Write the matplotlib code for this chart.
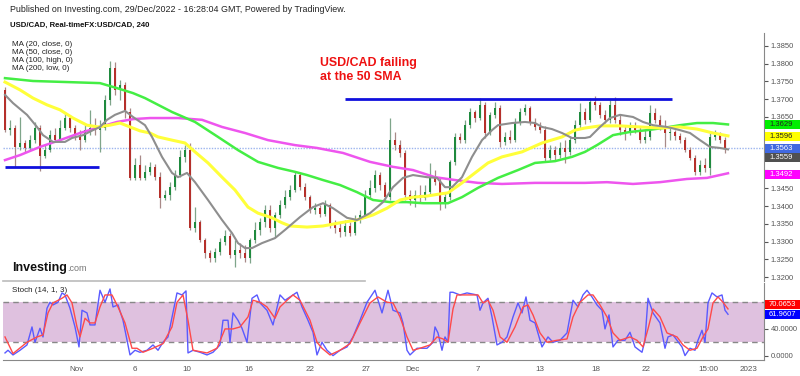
import numpy as np
import matplotlib
matplotlib.use('Agg')
import matplotlib.pyplot as plt
import matplotlib.transforms as mtransforms
from matplotlib.patches import Rectangle

plt.rcParams['font.family'] = ['Liberation Sans', 'DejaVu Sans']

# 4h USD/CAD candles (bar index = position)
opens = [1.3726, 1.3614, 1.3619, 1.3566, 1.3577, 1.3563, 1.3585, 1.3619, 1.3541, 1.3557,
         1.3599, 1.3585, 1.3619, 1.3647, 1.3619, 1.3599, 1.3585, 1.3614, 1.3619, 1.3614,
         1.3619, 1.3698, 1.3787, 1.3726, 1.3740, 1.3664, 1.3479, 1.3515, 1.3479, 1.3496,
         1.3510, 1.3482, 1.3423, 1.3431, 1.3454, 1.3487, 1.3538, 1.3557, 1.3339, 1.3355,
         1.3305, 1.3269, 1.3255, 1.3271, 1.3299, 1.3316, 1.3263, 1.3277, 1.3269, 1.3255,
         1.3305, 1.3333, 1.3355, 1.3389, 1.3339, 1.3375, 1.3403, 1.3426, 1.3445, 1.3487,
         1.3454, 1.3426, 1.3389, 1.3395, 1.3378, 1.3403, 1.3347, 1.3339, 1.3327, 1.3344,
         1.3325, 1.3361, 1.3375, 1.3431, 1.3451, 1.3487, 1.3459, 1.3426, 1.3585, 1.3571,
         1.3549, 1.3431, 1.3417, 1.3431, 1.3423, 1.3440, 1.3479, 1.3468, 1.3409, 1.3426,
         1.3524, 1.3594, 1.3585, 1.3628, 1.3664, 1.3647, 1.3684, 1.3605, 1.3656, 1.3675,
         1.3580, 1.3594, 1.3585, 1.3636, 1.3664, 1.3675, 1.3636, 1.3622, 1.3614, 1.3535,
         1.3557, 1.3543, 1.3563, 1.3552, 1.3585, 1.3628, 1.3664, 1.3642, 1.3692, 1.3684,
         1.3656, 1.3642, 1.3684, 1.3642, 1.3614, 1.3608, 1.3619, 1.3614, 1.3585, 1.3594,
         1.3661, 1.3642, 1.3622, 1.3605, 1.3608, 1.3597, 1.3585, 1.3557, 1.3535, 1.3496,
         1.3515, 1.3507, 1.3594, 1.3599, 1.3585]
closes = [1.3614, 1.3619, 1.3566, 1.3577, 1.3563, 1.3585, 1.3619, 1.3541, 1.3557, 1.3599,
          1.3585, 1.3619, 1.3647, 1.3619, 1.3599, 1.3585, 1.3614, 1.3619, 1.3614, 1.3619,
          1.3698, 1.3787, 1.3726, 1.3740, 1.3664, 1.3479, 1.3515, 1.3479, 1.3496, 1.3510,
          1.3482, 1.3423, 1.3431, 1.3454, 1.3487, 1.3538, 1.3557, 1.3339, 1.3355, 1.3305,
          1.3269, 1.3255, 1.3271, 1.3299, 1.3316, 1.3263, 1.3277, 1.3269, 1.3255, 1.3305,
          1.3333, 1.3355, 1.3389, 1.3339, 1.3375, 1.3403, 1.3426, 1.3445, 1.3487, 1.3454,
          1.3426, 1.3389, 1.3395, 1.3378, 1.3403, 1.3347, 1.3339, 1.3327, 1.3344, 1.3325,
          1.3361, 1.3375, 1.3431, 1.3451, 1.3487, 1.3459, 1.3426, 1.3585, 1.3571, 1.3549,
          1.3431, 1.3417, 1.3431, 1.3423, 1.3440, 1.3479, 1.3468, 1.3409, 1.3426, 1.3524,
          1.3594, 1.3585, 1.3628, 1.3664, 1.3647, 1.3684, 1.3605, 1.3656, 1.3675, 1.3580,
          1.3594, 1.3585, 1.3636, 1.3664, 1.3675, 1.3636, 1.3622, 1.3614, 1.3535, 1.3557,
          1.3543, 1.3563, 1.3552, 1.3585, 1.3628, 1.3664, 1.3642, 1.3692, 1.3684, 1.3656,
          1.3642, 1.3684, 1.3642, 1.3614, 1.3608, 1.3619, 1.3614, 1.3585, 1.3594, 1.3661,
          1.3642, 1.3622, 1.3605, 1.3608, 1.3597, 1.3585, 1.3557, 1.3535, 1.3496, 1.3515,
          1.3507, 1.3594, 1.3599, 1.3585, 1.3563]
highs = [1.3734, 1.3642, 1.3628, 1.3650, 1.3585, 1.3599, 1.3636, 1.3628, 1.3571, 1.3614,
         1.3619, 1.3642, 1.3664, 1.3656, 1.3628, 1.3614, 1.3628, 1.3670, 1.3647, 1.3642,
         1.3712, 1.3807, 1.3804, 1.3754, 1.3748, 1.3675, 1.3535, 1.3543, 1.3515, 1.3524,
         1.3518, 1.3496, 1.3445, 1.3468, 1.3501, 1.3557, 1.3571, 1.3577, 1.3398, 1.3361,
         1.3311, 1.3277, 1.3283, 1.3311, 1.3333, 1.3325, 1.3305, 1.3297, 1.3291, 1.3311,
         1.3355, 1.3367, 1.3403, 1.3403, 1.3384, 1.3417, 1.3445, 1.3459, 1.3496, 1.3496,
         1.3465, 1.3431, 1.3409, 1.3403, 1.3417, 1.3409, 1.3361, 1.3355, 1.3361, 1.3355,
         1.3375, 1.3389, 1.3445, 1.3473, 1.3501, 1.3496, 1.3468, 1.3647, 1.3608, 1.3585,
         1.3557, 1.3445, 1.3445, 1.3459, 1.3459, 1.3521, 1.3501, 1.3479, 1.3440, 1.3529,
         1.3605, 1.3605, 1.3642, 1.3675, 1.3670, 1.3703, 1.3692, 1.3664, 1.3692, 1.3684,
         1.3608, 1.3614, 1.3647, 1.3675, 1.3686, 1.3681, 1.3647, 1.3636, 1.3625, 1.3571,
         1.3569, 1.3580, 1.3585, 1.3594, 1.3642, 1.3689, 1.3675, 1.3703, 1.3709, 1.3692,
         1.3670, 1.3698, 1.3706, 1.3656, 1.3628, 1.3636, 1.3636, 1.3622, 1.3614, 1.3684,
         1.3675, 1.3656, 1.3642, 1.3619, 1.3614, 1.3605, 1.3594, 1.3566, 1.3543, 1.3529,
         1.3535, 1.3605, 1.3614, 1.3608, 1.3594]
lows = [1.3608, 1.3599, 1.3510, 1.3557, 1.3552, 1.3557, 1.3577, 1.3498, 1.3535, 1.3552,
        1.3580, 1.3580, 1.3614, 1.3608, 1.3585, 1.3557, 1.3580, 1.3599, 1.3599, 1.3552,
        1.3614, 1.3684, 1.3712, 1.3698, 1.3647, 1.3473, 1.3473, 1.3473, 1.3473, 1.3487,
        1.3473, 1.3395, 1.3417, 1.3417, 1.3445, 1.3482, 1.3524, 1.3333, 1.3327, 1.3299,
        1.3255, 1.3243, 1.3243, 1.3263, 1.3291, 1.3255, 1.3229, 1.3255, 1.3243, 1.3241,
        1.3297, 1.3319, 1.3341, 1.3327, 1.3313, 1.3367, 1.3395, 1.3417, 1.3440, 1.3445,
        1.3417, 1.3381, 1.3378, 1.3369, 1.3372, 1.3339, 1.3325, 1.3313, 1.3316, 1.3316,
        1.3319, 1.3353, 1.3367, 1.3423, 1.3440, 1.3445, 1.3417, 1.3417, 1.3557, 1.3538,
        1.3417, 1.3403, 1.3398, 1.3412, 1.3417, 1.3431, 1.3459, 1.3389, 1.3395, 1.3417,
        1.3515, 1.3577, 1.3577, 1.3619, 1.3636, 1.3642, 1.3591, 1.3599, 1.3647, 1.3566,
        1.3571, 1.3577, 1.3580, 1.3628, 1.3656, 1.3628, 1.3614, 1.3605, 1.3524, 1.3529,
        1.3529, 1.3535, 1.3521, 1.3543, 1.3577, 1.3619, 1.3630, 1.3636, 1.3670, 1.3647,
        1.3633, 1.3633, 1.3633, 1.3599, 1.3585, 1.3599, 1.3605, 1.3577, 1.3577, 1.3585,
        1.3633, 1.3614, 1.3566, 1.3585, 1.3585, 1.3577, 1.3552, 1.3529, 1.3487, 1.3487,
        1.3496, 1.3487, 1.3585, 1.3577, 1.3549]

# moving averages (bar position, value)
ma20_bar = [0, 1.6, 4.4, 6.4, 7.6, 9.6, 12, 13.4, 15.6, 17.6, 19, 20.4, 22, 24, 25.6, 28, 29.4, 31.4,
            33.4, 34.6, 36.4, 38, 40.6, 43.4, 45.4, 46.6, 48, 49.4, 51.4, 54, 56, 59, 61.6, 63.6, 65.6,
            68.4, 70.4, 73, 75.6, 77.6, 79.6, 81.6, 84.4, 86.4, 88, 89.4, 91.4, 93.4, 95.4, 97.4, 98.6,
            101.4, 104, 106, 107.4, 109.4, 111.4, 113.4, 116, 117, 119, 121, 123, 125.6, 127.6, 129.6,
            132.4, 135, 137, 139, 141, 143, 144.6]
ma20 = [1.3712, 1.3689, 1.3656, 1.3622, 1.3599, 1.3580, 1.3580, 1.3591, 1.3599, 1.3613,
        1.3622, 1.3642, 1.3656, 1.3667, 1.3650, 1.3627, 1.3594, 1.3538, 1.3493, 1.3481,
        1.3493, 1.3467, 1.3417, 1.3361, 1.3324, 1.3296, 1.3282, 1.3282, 1.3296, 1.3310,
        1.3333, 1.3369, 1.3397, 1.3408, 1.3394, 1.3367, 1.3361, 1.3380, 1.3411, 1.3453,
        1.3479, 1.3487, 1.3481, 1.3479, 1.3453, 1.3453, 1.3481, 1.3538, 1.3585, 1.3613,
        1.3627, 1.3633, 1.3636, 1.3633, 1.3622, 1.3616, 1.3605, 1.3591, 1.3591, 1.3594,
        1.3622, 1.3647, 1.3656, 1.3650, 1.3636, 1.3627, 1.3622, 1.3613, 1.3605, 1.3585,
        1.3566, 1.3563, 1.3559]
ma50_bar = [0, 3, 5.6, 8.4, 11, 13.6, 16.4, 18.6, 21, 23, 25, 27, 29, 30.6, 33.4, 36, 38, 40.6, 43.4,
            46, 48.6, 50.6, 53.4, 55.4, 57, 60.4, 63.6, 67, 70.4, 73.6, 76.4, 79, 81.6, 84.4, 87, 88.6,
            91.4, 94, 96.6, 99.4, 103.4, 107.4, 111.4, 114, 116, 119, 123, 127, 131, 135, 138.4,
            141.6, 144.6]
ma50 = [1.3748, 1.3726, 1.3703, 1.3684, 1.3670, 1.3647, 1.3627, 1.3622, 1.3627, 1.3633,
        1.3622, 1.3611, 1.3605, 1.3594, 1.3585, 1.3577, 1.3552, 1.3521, 1.3481, 1.3445,
        1.3397, 1.3380, 1.3367, 1.3353, 1.3344, 1.3341, 1.3344, 1.3353, 1.3361, 1.3375,
        1.3394, 1.3417, 1.3425, 1.3428, 1.3434, 1.3437, 1.3465, 1.3493, 1.3521, 1.3538,
        1.3552, 1.3577, 1.3594, 1.3613, 1.3619, 1.3625, 1.3625, 1.3622, 1.3619, 1.3622,
        1.3616, 1.3605, 1.3597]
ma100_bar = [0, 5.6, 12.4, 19, 22.4, 25.6, 28, 33.4, 38, 42.6, 46.6, 50.6, 54.6, 58, 60.4, 63.6, 67,
             70.4, 73.6, 77, 80.4, 83.6, 88.6, 91.4, 94.6, 98.6, 102.6, 106, 110, 113.4, 116, 118.4,
             121.6, 125, 128.4, 131.6, 135, 138.4, 141.6, 144.6]
ma100 = [1.3759, 1.3751, 1.3748, 1.3745, 1.3731, 1.3717, 1.3703, 1.3664, 1.3636, 1.3594,
         1.3557, 1.3524, 1.3507, 1.3496, 1.3487, 1.3473, 1.3459, 1.3439, 1.3417, 1.3411,
         1.3411, 1.3408, 1.3408, 1.3425, 1.3451, 1.3479, 1.3501, 1.3521, 1.3526, 1.3538,
         1.3552, 1.3571, 1.3599, 1.3608, 1.3613, 1.3619, 1.3627, 1.3633, 1.3633, 1.3629]
ma200_bar = [0, 3, 7, 11, 15, 19, 22.4, 25.6, 29, 34.6, 39.4, 43.4, 48, 52.6, 58, 62.4, 67.6, 73,
             77.6, 81.6, 86, 90, 94.6, 99.4, 106, 111.4, 116, 120.4, 125.6, 131, 136.4, 140.4, 144.6]
ma200 = [1.3529, 1.3543, 1.3566, 1.3585, 1.3605, 1.3622, 1.3636, 1.3644, 1.3647, 1.3647,
         1.3642, 1.3622, 1.3605, 1.3585, 1.3571, 1.3563, 1.3549, 1.3524, 1.3510, 1.3501,
         1.3481, 1.3473, 1.3465, 1.3462, 1.3465, 1.3465, 1.3465, 1.3467, 1.3462, 1.3467,
         1.3476, 1.3479, 1.3492]

# stochastic (14, 1, 3): %K blue, %D red
k_bar = [0, 0.6, 1.6, 3, 4.4, 5.4, 6, 7, 7.6, 8.4, 9, 9.6, 10.6, 11.4, 12, 13, 14, 14.8, 15.4, 16.4,
         17, 18, 19, 20, 21, 21.6, 22.6, 23.6, 25, 26, 27, 28.4, 29.6, 30.6, 31.6, 32.6, 33.6, 34.4,
         35.4, 36.2, 36.6, 37.6, 39, 40.4, 41.6, 43, 43.6, 44.6, 45, 45.6, 46.6, 47.4, 48.4, 49.4,
         50.4, 51, 52.4, 53.6, 55, 56, 57, 58.4, 59.4, 60.6, 61.6, 62.4, 63.4, 64.4, 65.6, 67, 68.4,
         69.6, 71, 72.4, 74, 75.4, 76.6, 77.6, 79, 79.6, 80.4, 81, 82.4, 84.4, 85.6, 86, 86.6, 87.4,
         88, 88.6, 89, 89.6, 91, 92.4, 94.4, 95, 95.6, 96.6, 97.4, 98.4, 99.4, 100.4, 101.6, 102.6,
         103.4, 104.2, 105, 106, 107.4, 108.6, 109.6, 111, 112.4, 113.6, 114.6, 115.6, 116.4, 117.4,
         118.4, 119.4, 120, 120.8, 121.6, 122.6, 124, 125, 126, 127.4, 128, 128.6, 129.6, 131, 132,
         132.6, 133.6, 135.4, 136, 137, 138, 138.6, 139.4, 140, 140.6, 141.4, 142.4, 143.4, 144, 144.6]
k_val = [4, 8, 1, 8, 16, 43, 20, 41, 28, 71, 80, 76, 80, 94, 91, 71, 43, 13, 68, 64,
         46, 46, 98, 80, 100, 73, 76, 53, 1, 8, 5, 8, 16, 8, 20, 28, 65, 94, 91, 97,
         4, 8, 5, 1, 5, 16, 53, 53, 20, 64, 53, 41, 20, 86, 91, 79, 68, 46, 91, 83,
         88, 95, 73, 53, 35, 1, 20, 8, 0, 8, 13, 28, 53, 80, 98, 64, 98, 68, 64, 49,
         8, 1, 11, 11, 20, 43, 34, 8, 28, 20, 95, 95, 91, 94, 91, 68, 79, 86, 58, 16,
         20, 28, 58, 79, 64, 88, 53, 49, 13, 28, 20, 23, 34, 83, 73, 91, 98, 88, 76, 68,
         40, 61, 13, 23, 23, 35, 13, 5, 23, 86, 64, 49, 11, 28, 31, 13, 0, 11, 8, 23,
         38, 20, 79, 94, 88, 91, 68, 62]
d_bar = [0, 1.6, 4.4, 6.4, 7.6, 8.6, 9.6, 11.4, 12.4, 13.4, 14.4, 15, 16, 17, 18, 19, 20, 21.4, 22.6,
         24, 25.4, 26.4, 27.6, 29.6, 31.6, 33.4, 34.4, 35.6, 36.6, 37.6, 40.4, 42.4, 44, 45.6, 47,
         48.6, 49.6, 51, 52.4, 54, 55, 56.4, 57.6, 59, 61, 62.4, 63.4, 65, 67, 69, 71, 73, 74.6, 76.4,
         77.6, 79, 80.4, 81.6, 83, 85, 86.4, 87.6, 88.6, 89.6, 90.4, 92.4, 94.6, 95.6, 96.6, 97.6, 99,
         100.4, 102, 103.6, 104.6, 105.6, 107, 108.4, 110.4, 112.4, 113.6, 115, 116.6, 117.6, 119,
         120.4, 121.6, 123, 125, 126.4, 127.6, 128.6, 129.6, 131, 132.4, 134.4, 135.6, 137, 138.4,
         139.6, 140.6, 141.6, 142.6, 143.6, 144.6]
d_val = [28, 3, 20, 28, 31, 64, 79, 86, 91, 79, 43, 28, 56, 49, 49, 73, 91, 91, 73, 49,
         11, 11, 5, 11, 18, 43, 80, 91, 53, 8, 4, 11, 40, 40, 43, 58, 83, 80, 73, 56,
         73, 83, 91, 83, 53, 20, 11, 1, 8, 18, 49, 79, 88, 80, 79, 58, 28, 8, 11, 16,
         28, 25, 20, 70, 91, 91, 91, 79, 83, 68, 28, 20, 43, 73, 76, 61, 34, 20, 23, 25,
         58, 80, 91, 91, 76, 58, 34, 23, 28, 23, 13, 40, 70, 58, 34, 28, 16, 8, 11, 28,
         40, 79, 88, 80, 70]

support_level, support_span = 1.3509, (0, 18.8)
resist_level, resist_span = 1.3700, (68, 133.4)
last_price = 1.3563

price_ticks = [1.3200, 1.3250, 1.3300, 1.3350, 1.3400, 1.3450, 1.3500, 1.3550,
               1.3600, 1.3650, 1.3700, 1.3750, 1.3800, 1.3850]
hidden_ticks = [1.3500, 1.3550, 1.3600]  # covered by the value boxes
xtick_bars = [14.4, 26, 36.4, 48.8, 61, 72.2, 81.6, 94.6, 107, 118.2, 128.2, 140.6, 148.8]
xtick_labels = ['Nov', '6', '10', '16', '22', '27', 'Dec', '7', '13', '18', '22', '15:00', '2023']

ma_names = ['MA (20, close, 0)', 'MA (50, close, 0)', 'MA (100, high, 0)', 'MA (200, low, 0)']
box_values = [1.3629, 1.3596, 1.3563, 1.3559, 1.3492]
box_pos = [1.3628, 1.3595, 1.3562, 1.3535, 1.3489]
box_fc = ['#00ee00', '#ffff00', '#4169e1', '#505050', '#ff00ff']
box_tc = ['#222222', '#222222', 'white', 'white', 'white']
stoch_values = [70.0653, 61.9607]
stoch_pos = [76, 62]
stoch_fc = ['#ff0000', '#0000ff']

W, H = 800, 376
fig = plt.figure(figsize=(W / 100, H / 100), dpi=100)
fig.patch.set_facecolor('white')


def fx(x):
    return x / W


def fy(y):
    return 1 - y / H


ax = fig.add_axes([fx(3), fy(281), fx(761), 248 / H])
ax2 = fig.add_axes([fx(3), fy(360), fx(761), 77 / H], sharex=ax)
ax.set_xlim(-0.4, 151.8)
ax.set_ylim(1.31896, 1.38857)
ax2.set_ylim(-6.6, 108.9)
price_per_px = (1.38857 - 1.31896) / 248
stoch_per_px = (108.9 + 6.6) / 77

# candles
o = np.array(opens)
c = np.array(closes)
idx = np.arange(len(c))
up = c >= o
body_col = np.where(up, '#1f8a3e', '#b5302b')
wick_col = np.where(up, '#7fa58a', '#a88a88')
ax.vlines(idx, lows, highs, colors=wick_col, lw=0.9, zorder=2)
ax.bar(idx, np.maximum(np.abs(c - o), 0.00012), bottom=np.minimum(o, c), width=0.55,
       color=body_col, linewidth=0, zorder=2.2)

ax.plot(ma200_bar, ma200, color='#ee55ee', lw=1.8, zorder=3)
ax.plot(ma100_bar, ma100, color='#44ee44', lw=1.8, zorder=3)
ax.plot(ma50_bar, ma50, color='#ffff3a', lw=2.2, zorder=3)
ax.plot(ma20_bar, ma20, color='#8e8e8e', lw=1.5, zorder=3)

ax.axhline(last_price, color='#9db5ee', lw=1, ls=(0, (1, 1)), zorder=1)
ax.hlines(support_level, *support_span, color='#1010dd', lw=2, zorder=4)
ax.hlines(resist_level, *resist_span, color='#1010dd', lw=2, zorder=4)

# axes styling
for a in (ax, ax2):
    for s in ('top', 'left', 'bottom'):
        a.spines[s].set_visible(False)
    a.spines['right'].set_color('#888888')
    a.yaxis.tick_right()
    a.tick_params(axis='y', labelsize=5.5, colors='#555555', length=3, width=0.8, pad=2)
ax.set_yticks(price_ticks)
ax.set_yticklabels(['' if t in hidden_ticks else f'{t:.4f}' for t in price_ticks])
ax.tick_params(axis='x', bottom=False, labelbottom=False)
ax.plot([0, 362 / 761], [0, 0], transform=ax.transAxes, color='#bbbbbb', lw=1.2, clip_on=False)


def value_box(axis, per_px, pos, text, fc, tc):
    tr = mtransforms.blended_transform_factory(axis.transAxes, axis.transData)
    h = 9 * per_px
    axis.add_patch(Rectangle((1.0013, pos - h / 2), 0.05, h, transform=tr, fc=fc, ec='none',
                             clip_on=False, zorder=19))
    axis.text(1.0066, pos, text, transform=tr, fontsize=5.5, color=tc, va='center', ha='left',
              clip_on=False, zorder=20)


for v, p, fc, tc in zip(box_values, box_pos, box_fc, box_tc):
    value_box(ax, price_per_px, p, f'{v:.4f}', fc, tc)

# stochastic panel
ax2.axhspan(20, 80, color='#dfc1df', lw=0, zorder=0)
ax2.axhline(80, color='#888888', lw=1, ls=(0, (4, 3)), zorder=1)
ax2.axhline(20, color='#888888', lw=1, ls=(0, (4, 3)), zorder=1)
ax2.plot(k_bar, k_val, color='#5a5aff', lw=1, zorder=3)
ax2.plot(d_bar, d_val, color='#ff4a4a', lw=1, zorder=3)
ax2.spines['bottom'].set_visible(True)
ax2.spines['bottom'].set_color('#888888')
ax2.set_yticks([0, 40, 80])
ax2.set_yticklabels(['0.0000', '40.0000', ''])
ax2.set_xticks(xtick_bars)
ax2.set_xticklabels(xtick_labels)
ax2.tick_params(axis='x', length=0, labelsize=5.8, colors='#555555', pad=4)
for v, p, fc in zip(stoch_values, stoch_pos, stoch_fc):
    value_box(ax2, stoch_per_px, p, f'{v:.4f}', fc, 'white')

# header and labels
fig.text(fx(10), fy(9), 'Published on Investing.com, 29/Dec/2022 - 16:28:04 GMT, Powered by TradingView.',
         fontsize=6.4, color='#222222', va='center')
fig.text(fx(10), fy(25), 'USD/CAD, Real-timeFX:USD/CAD, 240', fontsize=5.6, fontweight='bold',
         color='#111111', va='center')
for k, name in enumerate(ma_names):
    fig.text(fx(12), fy(44 + 8.3 * k), name, fontsize=5.8, color='#222222', va='center')
fig.text(fx(12), fy(290), 'Stoch (14, 1, 3)', fontsize=5.8, color='#222222', va='center')
fig.text(fx(320), fy(63), 'USD/CAD failing', fontsize=8.9, fontweight='bold', color='#ee1111', va='center')
fig.text(fx(320), fy(77), 'at the 50 SMA', fontsize=8.9, fontweight='bold', color='#ee1111', va='center')
fig.text(fx(12), fy(271), 'Investing', fontsize=9, fontweight='bold', color='#111111', va='baseline')
fig.text(fx(67), fy(271), '.com', fontsize=6.5, color='#777777', va='baseline')

fig.savefig('out.png', dpi=100, facecolor='white')
